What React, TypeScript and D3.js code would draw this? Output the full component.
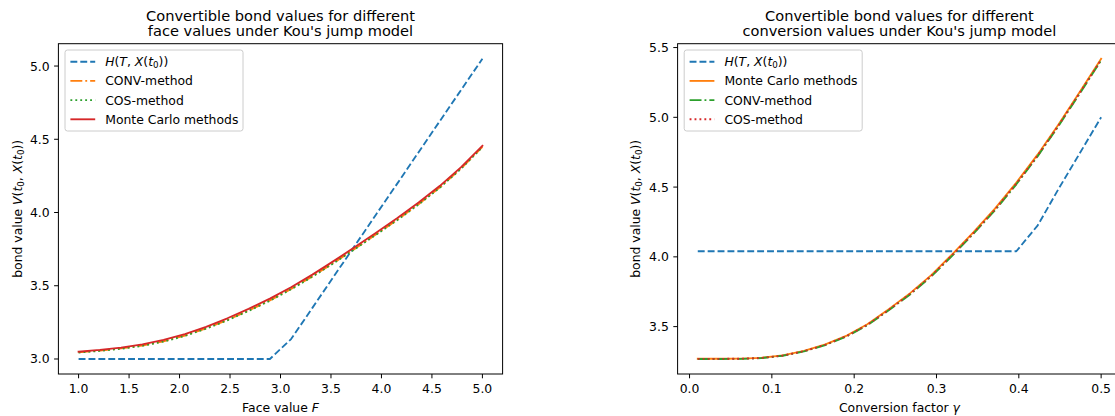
import React from "react";
import * as d3 from "d3";

// ---------- data ----------
const faceValues = [1.0, 1.211, 1.421, 1.632, 1.842, 2.053, 2.263, 2.474, 2.684, 2.895, 3.105, 3.316, 3.526, 3.737, 3.947, 4.158, 4.368, 4.579, 4.789, 5.0];
const faceH = [3.0, 3.0, 3.0, 3.0, 3.0, 3.0, 3.0, 3.0, 3.0, 3.0, 3.136, 3.349, 3.562, 3.774, 3.987, 4.199, 4.412, 4.625, 4.837, 5.05];
const faceMC = [3.05, 3.062, 3.078, 3.1, 3.13, 3.17, 3.22, 3.278, 3.342, 3.412, 3.49, 3.576, 3.668, 3.764, 3.862, 3.962, 4.068, 4.182, 4.31, 4.455];
const faceCONV = [3.046, 3.057, 3.072, 3.092, 3.121, 3.16, 3.209, 3.266, 3.33, 3.4, 3.478, 3.564, 3.656, 3.752, 3.851, 3.951, 4.057, 4.172, 4.301, 4.448];
const faceCOS = [3.044, 3.055, 3.07, 3.09, 3.119, 3.158, 3.207, 3.264, 3.328, 3.398, 3.476, 3.562, 3.654, 3.75, 3.849, 3.949, 4.055, 4.17, 4.299, 4.446];

const gammaValues = [0.01, 0.036, 0.062, 0.087, 0.113, 0.139, 0.165, 0.191, 0.216, 0.242, 0.268, 0.294, 0.319, 0.345, 0.371, 0.397, 0.423, 0.448, 0.474, 0.5];
const gammaH = [4.04, 4.04, 4.04, 4.04, 4.04, 4.04, 4.04, 4.04, 4.04, 4.04, 4.04, 4.04, 4.04, 4.04, 4.04, 4.04, 4.226, 4.484, 4.742, 5.0];
const gammaMC = [3.27, 3.27, 3.271, 3.276, 3.294, 3.326, 3.373, 3.436, 3.517, 3.625, 3.74, 3.871, 4.018, 4.177, 4.345, 4.532, 4.734, 4.947, 5.182, 5.42];
const gammaCONV = [3.268, 3.268, 3.269, 3.274, 3.291, 3.322, 3.368, 3.43, 3.51, 3.617, 3.731, 3.861, 4.007, 4.166, 4.333, 4.52, 4.722, 4.935, 5.17, 5.408];
const gammaCOS = [3.269, 3.269, 3.27, 3.275, 3.292, 3.324, 3.37, 3.433, 3.513, 3.62, 3.735, 3.866, 4.012, 4.171, 4.338, 4.525, 4.727, 4.94, 5.175, 5.412];

const faceTicksX = [1.0, 1.5, 2.0, 2.5, 3.0, 3.5, 4.0, 4.5, 5.0];
const faceTicksY = [3.0, 3.5, 4.0, 4.5, 5.0];
const gammaTicksX = [0.0, 0.1, 0.2, 0.3, 0.4, 0.5];
const gammaTicksY = [3.5, 4.0, 4.5, 5.0, 5.5];

// ---------- styles ----------
const FONT = "DejaVu Sans, sans-serif";
const C_BLUE = "#1f77b4";
const C_ORANGE = "#ff7f0e";
const C_GREEN = "#2ca02c";
const C_RED = "#d62728";
const LW = 1.86;
const DASHED = "6.9,3";
const DASHDOT = "11.9,3,1.86,3";
const DOTTED = "1.86,3.07";

type Series = { key: string; ys: number[]; color: string; dash: string | null; label: React.ReactNode };

const Sub0 = () => (
  <tspan baselineShift="-25%" fontSize="8.7">0</tspan>
);

const HLabel = (
  <>
    <tspan fontStyle="italic">H</tspan>(<tspan fontStyle="italic">T</tspan>, <tspan fontStyle="italic">X</tspan>(<tspan fontStyle="italic">t</tspan>
    <Sub0 />
    <tspan>))</tspan>
  </>
);

const YLabel = (
  <>
    bond value <tspan fontStyle="italic">V</tspan>(<tspan fontStyle="italic">t</tspan>
    <Sub0 />
    <tspan>, </tspan>
    <tspan fontStyle="italic">X</tspan>(<tspan fontStyle="italic">t</tspan>
    <Sub0 />
    <tspan>))</tspan>
  </>
);

function extentWithMargin(arrs: number[][]): [number, number] {
  const all = arrs.flat();
  const lo = d3.min(all) as number;
  const hi = d3.max(all) as number;
  const m = (hi - lo) * 0.05;
  return [lo - m, hi + m];
}

type PanelProps = {
  left: number;
  right: number;
  top: number;
  bottom: number;
  xs: number[];
  series: Series[];
  xTicks: number[];
  yTicks: number[];
  titleLines: string[];
  xLabel: React.ReactNode;
  yLabelX: number;
};

function Panel(p: PanelProps) {
  const xDom = extentWithMargin([p.xs]);
  const yDom = extentWithMargin(p.series.map((s) => s.ys));
  const x = d3.scaleLinear().domain(xDom).range([p.left, p.right]);
  const y = d3.scaleLinear().domain(yDom).range([p.bottom, p.top]);
  const line = d3
    .line<[number, number]>()
    .x((d) => x(d[0]))
    .y((d) => y(d[1]));
  const cx = (p.left + p.right) / 2;
  const cy = (p.top + p.bottom) / 2;
  const lgX = p.left + 6.6;
  const lgY = p.top + 6.3;
  const lgW = 178;
  const lgH = 81;
  return (
    <g>
      {p.titleLines.map((t, i) => (
        <text key={i} x={cx} y={21 + i * 15.2} textAnchor="middle" fontSize="14.6" fill="#000">
          {t}
        </text>
      ))}
      {p.series.map((s) => (
        <path
          key={s.key}
          d={line(p.xs.map((v, i) => [v, s.ys[i]]) as [number, number][]) || ""}
          fill="none"
          stroke={s.color}
          strokeWidth={LW}
          strokeDasharray={s.dash || undefined}
          strokeLinecap={s.dash ? "butt" : "square"}
          strokeLinejoin="round"
        />
      ))}
      <rect x={p.left} y={p.top} width={p.right - p.left} height={p.bottom - p.top} fill="none" stroke="#000" strokeWidth={1} />
      {p.xTicks.map((t) => (
        <g key={"x" + t}>
          <line x1={x(t)} x2={x(t)} y1={p.bottom} y2={p.bottom + 4.3} stroke="#000" strokeWidth={1} />
          <text x={x(t)} y={p.bottom + 19} textAnchor="middle" fontSize="12.4" fill="#000">
            {t.toFixed(1)}
          </text>
        </g>
      ))}
      {p.yTicks.map((t) => (
        <g key={"y" + t}>
          <line x1={p.left} x2={p.left - 4.3} y1={y(t)} y2={y(t)} stroke="#000" strokeWidth={1} />
          <text x={p.left - 8.8} y={y(t) + 4.5} textAnchor="end" fontSize="12.4" fill="#000">
            {t.toFixed(1)}
          </text>
        </g>
      ))}
      <text x={cx} y={411.5} textAnchor="middle" fontSize="12.4" fill="#000">
        {p.xLabel}
      </text>
      <text transform={`translate(${p.yLabelX},${cy}) rotate(-90)`} textAnchor="middle" fontSize="12.4" fill="#000">
        {YLabel}
      </text>
      <g>
        <rect x={lgX} y={lgY} width={lgW} height={lgH} rx={2.5} ry={2.5} fill="#fff" fillOpacity={0.8} stroke="#cccccc" strokeWidth={1} />
        {p.series.map((s, i) => {
          const ry = lgY + 11.7 + i * 19.2;
          return (
            <g key={"lg" + s.key}>
              <line x1={lgX + 5.4} x2={lgX + 30.2} y1={ry} y2={ry} stroke={s.color} strokeWidth={LW} strokeDasharray={s.dash || undefined} />
              <text x={lgX + 40.2} y={ry + 4.4} fontSize="12.4" fill="#000">
                {s.label}
              </text>
            </g>
          );
        })}
      </g>
    </g>
  );
}

export default function App() {
  const leftSeries: Series[] = [
    { key: "H", ys: faceH, color: C_BLUE, dash: DASHED, label: HLabel },
    { key: "CONV", ys: faceCONV, color: C_ORANGE, dash: DASHDOT, label: "CONV-method" },
    { key: "COS", ys: faceCOS, color: C_GREEN, dash: DOTTED, label: "COS-method" },
    { key: "MC", ys: faceMC, color: C_RED, dash: null, label: "Monte Carlo methods" },
  ];
  const rightSeries: Series[] = [
    { key: "H", ys: gammaH, color: C_BLUE, dash: DASHED, label: HLabel },
    { key: "MC", ys: gammaMC, color: C_ORANGE, dash: null, label: "Monte Carlo methods" },
    { key: "CONV", ys: gammaCONV, color: C_GREEN, dash: DASHDOT, label: "CONV-method" },
    { key: "COS", ys: gammaCOS, color: C_RED, dash: DOTTED, label: "COS-method" },
  ];
  return (
    <svg
      width={1115}
      height={416}
      style={{ position: "absolute", left: 0, top: 0, background: "#fff" }}
      fontFamily={FONT}
    >
      <rect x={0} y={0} width={1115} height={416} fill="#fff" />
      <Panel
        left={58.4}
        right={502.6}
        top={43.7}
        bottom={374}
        xs={faceValues}
        series={leftSeries}
        xTicks={faceTicksX}
        yTicks={faceTicksY}
        titleLines={["Convertible bond values for different", "face values under Kou's jump model"]}
        xLabel={
          <>
            Face value <tspan fontStyle="italic">F</tspan>
          </>
        }
        yLabelX={21.5}
      />
      <Panel
        left={677.6}
        right={1121.3}
        top={43.7}
        bottom={374}
        xs={gammaValues}
        series={rightSeries}
        xTicks={gammaTicksX}
        yTicks={gammaTicksY}
        titleLines={["Convertible bond values for different", "conversion values under Kou's jump model"]}
        xLabel={
          <>
            Conversion factor <tspan fontStyle="italic">γ</tspan>
          </>
        }
        yLabelX={639.5}
      />
    </svg>
  );
}
